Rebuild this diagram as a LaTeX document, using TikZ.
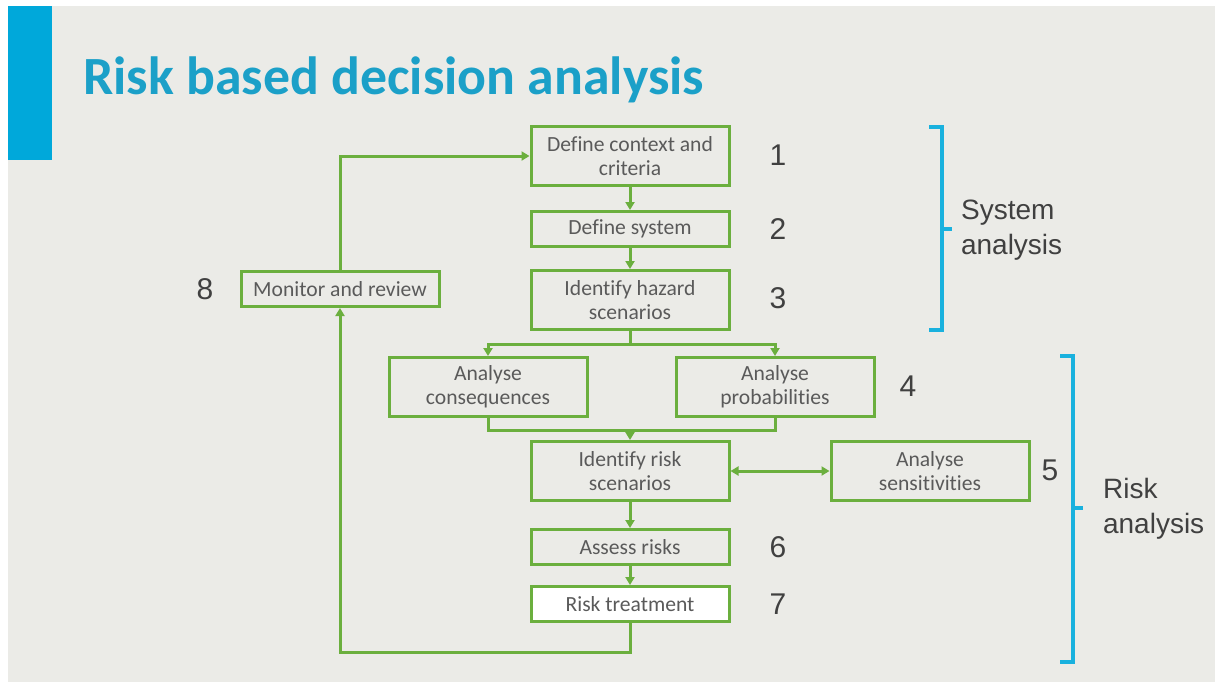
\documentclass[tikz,border=0pt]{standalone}
\usepackage{fontspec}
\setmainfont{Carlito}[Ligatures=NoCommon]
\newfontfamily\arialfont{Liberation Sans}
\usetikzlibrary{arrows.meta}
\usetikzlibrary{positioning}
\definecolor{bggray}{HTML}{EBEBE7}
\definecolor{barblue}{HTML}{00A8DA}
\definecolor{titleblue}{HTML}{1BA0C8}
\definecolor{boxgreen}{HTML}{6BAF3E}
\definecolor{textgray}{HTML}{5A5A5A}
\definecolor{numgray}{HTML}{404040}

\begin{document}
\begin{tikzpicture}[x=0.5pt,y=-0.5pt,
  box/.style={draw=boxgreen,line width=1.5pt,minimum width=99pt,inner sep=0pt,
    align=center,text=textgray,font=\fontsize{10.8}{12}\selectfont},
  tallbox/.style={box,minimum height=29.5pt},
  flatbox/.style={box,minimum height=17.5pt},
  link/.style={draw=boxgreen,line width=1.5pt},
  arr/.style={link,-{Triangle[length=4pt,width=4.5pt]}},
  num/.style={text=numgray,font=\arialfont\fontsize{15}{18}\selectfont},
  side/.style={text=numgray,align=left,anchor=west,font=\arialfont\fontsize{14}{17.5}\selectfont},
  bracket/.style={draw=barblue!90!white,line width=2.2pt}]

% background and title bar
\fill[white] (0,0) rectangle (1215,682);
\fill[bggray] (8,6) rectangle (1215,682);
\fill[barblue] (8,6) rectangle (52,160);
\node[anchor=base west,inner sep=0pt,text=titleblue,font=\bfseries\fontsize{26.9}{30}\selectfont]
  (title) at (83,94) {Risk based decision analysis};

% boxes
\node[tallbox] (context) at (630,156) {Define context and\\criteria};
\node[flatbox] (system) at (630,229) {Define system};
\node[tallbox] (hazard) at (630,300) {Identify hazard\\scenarios};
\node[tallbox] (conseq) at (488,387) {Analyse\\consequences};
\node[tallbox] (prob) at (775,387) {Analyse\\probabilities};
\node[tallbox] (riskscen) at (630,471) {Identify risk\\scenarios};
\node[tallbox] (sens) at (930,471) {Analyse\\sensitivities};
\node[flatbox] (assess) at (630,547) {Assess risks};
\node[flatbox,fill=white] (treat) at (630,604) {Risk treatment};
\node[flatbox] (monitor) at (340,289) {Monitor and review};

% step numbers
\node[num] (n1) at (778,155) {1};
\node[num] (n2) at (778,229) {2};
\node[num] (n3) at (778,298) {3};
\node[num] (n4) at (908,386) {4};
\node[num] (n5) at (1050,470) {5};
\node[num] (n6) at (778,547) {6};
\node[num] (n7) at (778,604) {7};
\node[num] (n8) at (205,289) {8};

% connectors
\coordinate (split) at (630,344);
\coordinate (merge) at (630,430);
\coordinate (loop) at (340,652);
\draw[arr] (context) -- (system);
\draw[arr] (system) -- (hazard);
\draw[link] (hazard) -- (split);
\draw[arr] (split) -| (conseq.north);
\draw[arr] (split) -| (prob.north);
\draw[link] (conseq.south) |- (merge) -| (prob.south);
\draw[arr] (merge) -- (riskscen);
\draw[link,{Triangle[length=4pt,width=4.5pt]}-{Triangle[length=4pt,width=4.5pt]}] (riskscen) -- (sens);
\draw[arr] (riskscen) -- (assess);
\draw[arr] (assess) -- (treat);
\draw[arr] (treat.south) |- (loop) -- (monitor.south);
\draw[arr] (monitor.north) |- (context.west);

% brackets
\draw[bracket] (929,127) -- (942,127) -- (942,330) -- (929,330);
\draw[bracket] (942,229) -- (952,229);
\draw[bracket] (1060,356) -- (1073,356) -- (1073,662) -- (1060,662);
\draw[bracket] (1073,508) -- (1083,508);
\node[side] (sysan) at (954,230) {System\\analysis};
\node[side] (riskan) at (1096,509) {Risk\\analysis};
\end{tikzpicture}
\end{document}
